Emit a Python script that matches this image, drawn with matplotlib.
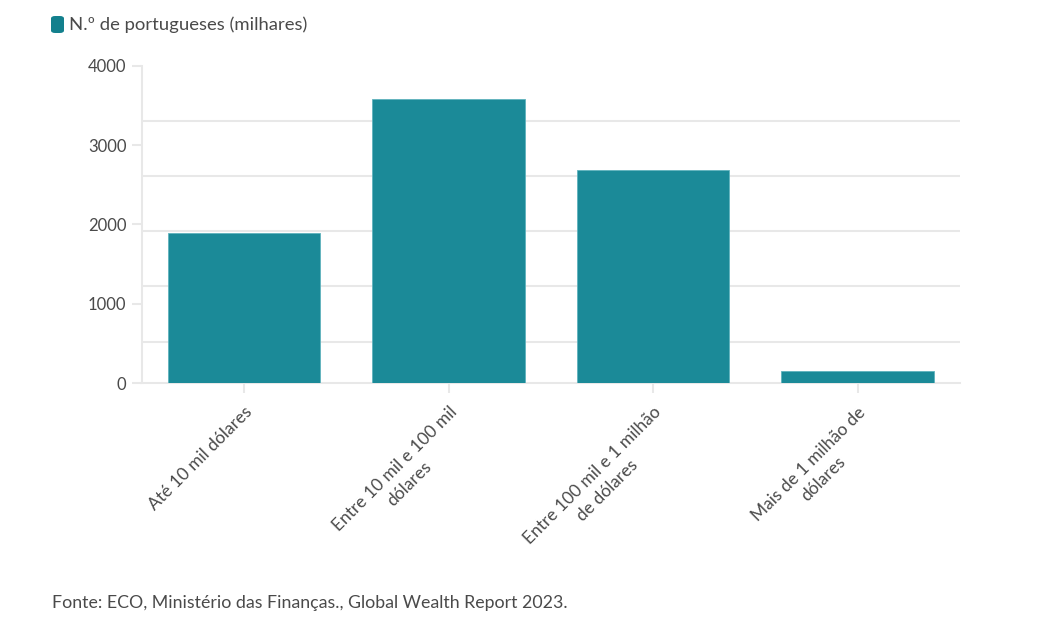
import matplotlib.pyplot as plt
from matplotlib.patches import FancyBboxPatch

# Data
categories = [
    "Até 10 mil dólares",
    "Entre 10 mil e 100 mil\ndólares",
    "Entre 100 mil e 1 milhão\nde dólares",
    "Mais de 1 milhão de\ndólares",
]
values = [1890, 3580, 2690, 160]
yticks = [0, 1000, 2000, 3000, 4000]
series_name = "N.º de portugueses (milhares)"
source = "Fonte: ECO, Ministério das Finanças., Global Wealth Report 2023."

bar_color = "#1b8a98"
text_color = "#4a4a4a"
grid_color = "#e8e8e8"

plt.rcParams["font.family"] = ["Lato", "DejaVu Sans"]

fig = plt.figure(figsize=(10.37, 6.27), dpi=100)
ax = fig.add_axes([0.1366, 0.3887, 0.9257 - 0.1366, 0.8952 - 0.3887])

x = range(len(categories))
ax.bar(x, values, width=0.746, color=bar_color, edgecolor="#5fb3bd",
       linewidth=0.6, zorder=3)

ax.set_xlim(-0.5, len(categories) - 0.5)
ax.set_ylim(0, 4000)

# major ticks carry labels, grid lines sit on their own spacing (as in the original)
ax.set_yticks(yticks)
ax.set_yticklabels([str(v) for v in yticks])
ax.set_yticks([4000 - 695 * k for k in range(6)], minor=True)
ax.yaxis.grid(True, which="minor", color=grid_color, linewidth=1.5, zorder=0)
ax.yaxis.grid(False, which="major")
ax.tick_params(axis="y", which="minor", length=0)
ax.tick_params(axis="y", which="major", length=7, width=1.5, color=grid_color,
               labelsize=12, labelcolor=text_color, pad=4)

ax.set_xticks(list(x))
ax.set_xticklabels(categories, rotation=45, ha="right", rotation_mode="anchor",
                   multialignment="center", linespacing=1.35)
ax.tick_params(axis="x", length=7, width=1.5, color=grid_color,
               labelsize=12.5, labelcolor=text_color, pad=8)

for side in ["top", "right"]:
    ax.spines[side].set_visible(False)
for side in ["left", "bottom"]:
    ax.spines[side].set_color(grid_color)
    ax.spines[side].set_linewidth(1.5)

# legend swatch + label
fig.patches.append(FancyBboxPatch((51 / 1037, 1 - 33 / 627), 13 / 1037, 17 / 627,
                                  boxstyle="round,pad=0,rounding_size=0.004",
                                  transform=fig.transFigure, facecolor="#13808d",
                                  edgecolor="none"))
fig.text(69 / 1037, 1 - 25 / 627, series_name, fontsize=13.3, color=text_color,
         va="center", ha="left")

fig.text(52 / 1037, 1 - 603 / 627, source, fontsize=12.8, color=text_color,
         va="center", ha="left")

fig.savefig("out.png", dpi=100, facecolor="white")
